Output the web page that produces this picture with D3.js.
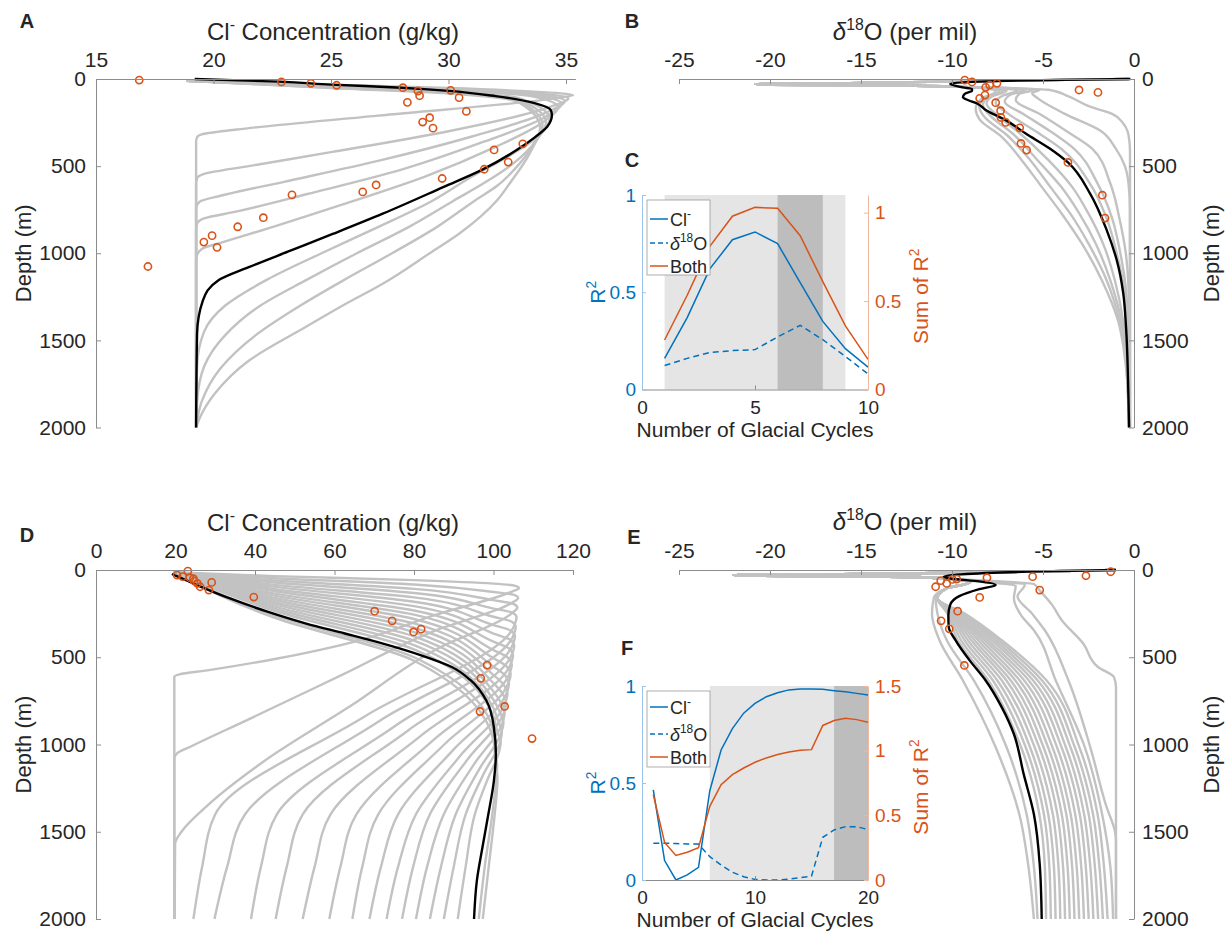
<!DOCTYPE html>
<html><head><meta charset="utf-8">
<script src="https://cdn.jsdelivr.net/npm/d3@7/dist/d3.min.js"></script>
<style>
html,body{margin:0;padding:0;background:#fff;}
svg text{font-family:"Liberation Sans",Arial,Helvetica,sans-serif;}
</style></head>
<body>
<svg id="fig" width="1230" height="935"></svg>
<script>
// ---------------- DATA ----------------
const depthTicks = [0, 500, 1000, 1500, 2000];
const clTicksA = [15, 20, 25, 30, 35];
const clTicksD = [0, 20, 40, 60, 80, 100, 120];
const o18Ticks = [-25, -20, -15, -10, -5, 0];

// Panel A: Cl- (g/kg), depth (m)
const clObsA = [[16.84,6],[22.89,17],[24.14,25],[25.24,36],[28.06,50],[28.7,69],[28.77,96],[30.09,65],[30.45,107],[28.25,134],[30.76,186],[29.2,222],[28.9,247],[29.34,282],[33.16,372],[31.94,407],[32.54,477],[31.52,518],[29.73,571],[26.92,608],[26.35,648],[23.34,665],[22.12,796],[21.03,848],[19.94,899],[19.59,936],[20.15,966],[17.21,1076]];
const clBestA = [[19.2,0],[22.8,15],[25,32],[28,50],[30,68],[32,98],[33.7,140],[34.35,178],[34.4,207],[34.2,274],[33.7,332],[32.9,408],[31.4,523],[29.8,619],[27.2,773],[25.1,888],[23.3,984],[21.5,1080],[20.2,1156],[19.55,1271],[19.3,1463],[19.26,2000]];
const clRunsA = [
 [[18.85,10],[25,33],[30,52],[33.5,72],[35.3,92],[34.6,110],[27,210],[21,290],[19.5,318],[19.3,335],[19.26,360],[19.26,2000]],
 [[18.85,10],[25,36],[30,57],[33.5,80],[35.1,110],[34.35,159],[30,300],[25,420],[21.5,500],[19.6,545],[19.3,570],[19.26,600],[19.26,2000]],
 [[18.85,10],[25,38],[30,61],[33.5,86],[34.95,125],[34.2,190],[31,330],[27,470],[23,590],[20.3,670],[19.4,705],[19.26,740],[19.26,2000]],
 [[18.85,10],[25,40],[30,64],[33.5,92],[34.8,140],[34.1,220],[31.5,360],[28,520],[24,660],[21,760],[19.6,800],[19.3,830],[19.26,870],[19.26,2000]],
 [[18.85,10],[25,42],[30,67],[33.5,98],[34.65,160],[34.0,250],[32,390],[29,560],[25.5,720],[22.5,850],[20.3,940],[19.5,975],[19.3,1010],[19.26,1050],[19.26,2000]],
 [[18.85,10],[25,46],[30,74],[33,110],[34.3,230],[33.9,320],[32.6,440],[31,560],[29.3,700],[27,850],[24.6,1000],[22.3,1150],[20.5,1300],[19.6,1450],[19.3,1650],[19.26,2000]],
 [[18.85,10],[25,48],[30,77],[33,118],[34.15,250],[33.75,350],[32.8,480],[31.6,590],[30.2,700],[28.3,850],[26.1,1000],[24,1150],[22,1300],[20.5,1470],[19.6,1650],[19.3,1850],[19.26,2000]],
 [[18.85,10],[25,50],[30,80],[33,126],[34.0,265],[33.6,380],[32.8,520],[32.1,610],[31.1,700],[29.5,850],[27.6,1000],[25.6,1150],[23.7,1300],[21.8,1470],[20.3,1660],[19.5,1850],[19.26,2000]],
 [[18.85,10],[25,52],[30,83],[33,134],[33.9,280],[33.45,428],[32.6,600],[32.07,696],[30.45,888],[29.2,1000],[27.2,1175],[25.5,1300],[23.9,1425],[21.5,1617],[20.04,1808],[19.4,1950],[19.26,2000]]
];

// Panel B: d18O (per mil)
const o18ObsB = [[-9.3,6],[-8.9,17],[-8.15,48],[-7.93,35],[-7.53,25],[-8.48,111],[-8.19,92],[-7.6,136],[-7.33,182],[-7.31,221],[-7.05,249],[-6.28,280],[-6.21,370],[-5.9,408],[-3.63,479],[-3.02,63],[-1.98,77],[-1.74,667],[-1.59,798]];
const o18BestB = [[-0.2,0],[-4,5],[-8.5,15],[-10.1,27],[-10,33],[-9.4,48],[-8.9,57],[-8.9,68],[-9.3,85],[-9.4,105],[-9.1,122],[-8.6,142],[-8.15,178],[-7.05,236],[-5.95,313],[-4.63,399],[-3.63,479],[-2.42,656],[-1.5,867],[-0.95,1039],[-0.59,1230],[-0.44,1421],[-0.31,1804],[-0.27,2000]];
const o18TopB = [[-0.3,0],[-6,8],[-15,22],[-20.8,30],[-20,34],[-12,39],[-9.6,45]];
const o18RunsB = [
 [[-7,52],[-4.7,62],[-3.6,100],[-2.42,159],[-1.2,200],[-0.6,254],[-0.35,300],[-0.25,360],[-0.22,420],[-0.22,2000]],
 [[-7,52],[-5.2,63],[-5.6,80],[-5.3,110],[-3.8,200],[-1.8,300],[-1.0,400],[-0.5,500],[-0.3,600],[-0.22,750],[-0.22,2000]],
 [[-7.2,52],[-5.6,64],[-6.3,85],[-6.5,120],[-5.2,200],[-3.7,300],[-2.3,400],[-1.3,600],[-0.8,800],[-0.45,1000],[-0.3,1200],[-0.24,1500],[-0.22,2000]],
 [[-7.4,52],[-6.0,65],[-6.8,90],[-7.1,130],[-6.1,200],[-4.6,300],[-3.3,400],[-2.0,600],[-1.2,800],[-0.75,1000],[-0.45,1200],[-0.3,1500],[-0.23,2000]],
 [[-7.6,52],[-6.4,66],[-7.2,95],[-7.6,135],[-6.9,200],[-5.4,300],[-4.0,400],[-2.42,600],[-1.5,800],[-0.95,1000],[-0.55,1200],[-0.36,1500],[-0.25,2000]],
 [[-8,52],[-7,67],[-7.8,100],[-8.1,140],[-7.6,200],[-6.4,300],[-4.7,466],[-3.4,619],[-2.5,773],[-1.7,945],[-1.05,1156],[-0.6,1386],[-0.38,1655],[-0.28,2000]],
 [[-8.1,52],[-7.2,68],[-8,105],[-8.3,150],[-7.9,210],[-6.7,310],[-5.3,466],[-4.0,619],[-3.0,773],[-2.1,945],[-1.3,1156],[-0.7,1386],[-0.4,1655],[-0.28,2000]],
 [[-8.2,52],[-7.4,69],[-8.2,110],[-8.5,160],[-8.2,220],[-7.0,320],[-5.7,466],[-4.6,619],[-3.5,773],[-2.5,945],[-1.5,1156],[-0.8,1386],[-0.42,1655],[-0.28,2000]],
 [[-8.3,52],[-7.6,70],[-8.4,115],[-8.7,170],[-8.5,230],[-7.27,332],[-6.17,466],[-5.07,619],[-3.97,773],[-2.86,945],[-1.76,1156],[-0.88,1386],[-0.44,1655],[-0.26,2000]]
];

// Inset C
const cyclesC = [1,2,3,4,5,6,7,8,9,10];
const r2ClC = [0.16,0.37,0.62,0.77,0.81,0.75,0.55,0.35,0.21,0.115];
const r2O18C = [0.123,0.16,0.19,0.2,0.205,0.27,0.33,0.256,0.17,0.08];
const r2SumC = [0.28,0.533,0.81,0.98,1.03,1.025,0.87,0.61,0.36,0.17];
const shadeLightC = [1, 9];
const shadeDarkC = [6, 8];

// Panel D
const clObsD = [[23.1,6],[20.4,29],[21.8,38],[23.6,44],[24.5,50],[24.7,63],[25.5,77],[26.2,96],[29.1,71],[28.4,115],[39.7,155],[70.1,236],[74.5,291],[79.9,355],[81.8,339],[98.4,545],[96.8,621],[102.8,782],[96.6,811],[109.7,966]];
const clBestD = [[19.1,23],[21.2,44],[26,92],[33.7,163],[43.3,240],[52.9,307],[62.6,364],[72.2,422],[81.8,489],[89.5,556],[94.3,633],[98.2,748],[100.1,901],[100.6,1055],[100.1,1208],[98.7,1400],[97.2,1592],[95.8,1783],[95.1,2000]];
const clRunsD = [
 [[19.5,12],[45,35],[80,58],[100,78],[105.5,91],[106.4,104],[104.5,125],[85,260],[66.4,403],[45,510],[28,575],[21,598],[19.7,612],[19.7,2000]],
 [[19.5,12],[45,47],[80,83],[100,126],[105.2,143],[106.2,160],[104.5,190],[85,350],[62,600],[38,860],[24,1010],[20.3,1052],[19.7,1080],[19.7,2000]],
 [[19.5,12],[45,60],[80,108],[100,173],[105,194],[106,215],[104.5,250],[86,450],[64,780],[42,1100],[28,1350],[21.5,1500],[19.9,1570],[19.8,2000]],
 [[19.5,12],[45,72],[80,132],[100,221],[104.8,245],[105.8,270],[105,330],[67.9,835],[30,1400],[26.7,1700],[24.5,2000]],
 [[19.5,12],[45,85],[80,157],[100,268],[104.6,296],[105.6,325],[104.8,385],[71.5,862],[37.5,1400],[33,1700],[29.8,2000]],
 [[19.5,12],[45,97],[80,182],[100,316],[104.4,348],[105.4,380],[104.6,440],[75.5,890],[45.5,1400],[41.5,1700],[39,2000]],
 [[19.5,12],[45,110],[80,207],[100,364],[104.2,400],[105.2,435],[104.4,495],[78.6,918],[52,1400],[48,1700],[45.2,2000]],
 [[19.5,12],[45,122],[80,232],[100,411],[103.9,450],[104.9,490],[104.1,550],[82,945],[59,1400],[55,1700],[52,2000]],
 [[19.5,12],[45,135],[80,256],[100,459],[103.6,502],[104.6,545],[103.8,605],[85,972],[65.5,1400],[61.5,1700],[58.7,2000]],
 [[19.5,12],[45,147],[80,281],[100,506],[103.3,553],[104.3,600],[103.5,660],[87.6,1000],[71,1400],[67,1700],[64.5,2000]],
 [[19.5,12],[45,160],[80,306],[100,554],[102.9,604],[103.9,655],[103.1,715],[90,1028],[76,1400],[71.7,1700],[68.8,2000]],
 [[19.5,12],[45,172],[80,331],[100,602],[102.5,656],[103.5,710],[102.8,770],[92,1055],[80.5,1400],[76,1700],[73.1,2000]],
 [[19.5,12],[45,185],[80,356],[100,649],[102.2,707],[103.2,765],[102.5,825],[93.6,1082],[84,1400],[79.8,1700],[77,2000]],
 [[19.5,12],[45,197],[80,380],[100,697],[101.8,758],[102.8,820],[102.2,880],[95.2,1110],[87.5,1400],[83.3,1700],[80.5,2000]],
 [[19.5,12],[45,210],[80,405],[100,744],[101.5,810],[102.5,875],[101.9,935],[96.5,1138],[90.5,1400],[86.8,1700],[84,2000]],
 [[19.5,12],[45,222],[80,430],[100,792],[101.1,861],[102.1,930],[101.6,990],[97.6,1165],[93,1400],[90,1700],[87.5,2000]],
 [[19.5,12],[45,235],[80,455],[100,840],[100.8,915],[101.8,990],[101.3,1050],[98.6,1195],[95.3,1400],[93,1700],[91,2000]],
 [[19.5,12],[45,262],[80,500],[100,930],[100.4,1025],[100.9,1120],[100.7,1200],[99.7,1400],[97.8,1700],[96.3,2000]],
 [[19.5,12],[45,275],[80,520],[100,980],[100.5,1090],[101,1200],[100.8,1280],[100.3,1400],[98.8,1700],[97.3,2000]]
];

// Panel E
const o18ObsE = [[-1.28,10],[-2.64,33],[-5.57,38],[-8.08,44],[-9.74,52],[-10.62,61],[-10.29,77],[-9.98,54],[-10.9,96],[-5.18,115],[-8.48,157],[-9.69,236],[-10.6,291],[-10.15,337],[-9.32,547]];
const o18BestE = [[-0.99,0],[-5,8],[-9.5,25],[-10.46,38],[-10,50],[-8.5,65],[-7.6,86],[-8.5,110],[-9.6,150],[-10.1,200],[-10.2,260],[-10.18,326],[-9.8,403],[-9.03,518],[-8.15,633],[-7.27,786],[-6.6,940],[-6.06,1170],[-5.5,1400],[-5.18,1687],[-5.07,2000]];
const o18TopE = [[-1,0],[-8,14],[-16,24],[-22,29],[-21.3,33],[-12,40],[-10.4,50]];
const o18RunsE = [
 [[-8,62],[-5.5,80],[-5.2,115],[-4.5,200],[-3.97,288],[-2.8,420],[-1.98,556],[-1.1,614],[-0.99,671],[-0.99,2000]],
 [[-8,64],[-6,85],[-6.4,150],[-5.6,250],[-4.9,345],[-3.6,633],[-2.4,1016],[-1.5,1361],[-1.05,1496],[-0.99,1553],[-0.99,2000]],
 [[-8.5,66],[-6.5,90],[-6.6,160],[-6.2,260],[-5.5,345],[-4.3,633],[-2.7,1016],[-1.75,1400],[-1.3,1700],[-1.15,2000]],
 [[-9,72],[-10.3,105],[-10.8,160],[-9.3,250],[-7.3,400],[-4.8,633],[-3.0,1016],[-2.0,1400],[-1.65,1700],[-1.45,2000]],
 [[-9,72],[-10.3,105],[-10.8,160],[-9.37,250],[-7.48,400],[-5.05,633],[-3.25,1016],[-2.25,1400],[-1.9,1700],[-1.71,2000]],
 [[-9,72],[-10.3,105],[-10.8,160],[-9.45,250],[-7.67,400],[-5.29,633],[-3.49,1016],[-2.49,1400],[-2.15,1700],[-1.97,2000]],
 [[-9,72],[-10.3,105],[-10.8,160],[-9.52,250],[-7.85,400],[-5.54,633],[-3.74,1016],[-2.74,1400],[-2.4,1700],[-2.23,2000]],
 [[-9,72],[-10.3,105],[-10.8,160],[-9.59,250],[-8.04,400],[-5.78,633],[-3.98,1016],[-2.98,1400],[-2.65,1700],[-2.49,2000]],
 [[-9,72],[-10.3,105],[-10.8,160],[-9.67,250],[-8.22,400],[-6.03,633],[-4.23,1016],[-3.23,1400],[-2.9,1700],[-2.75,2000]],
 [[-9,72],[-10.3,105],[-10.8,160],[-9.74,250],[-8.41,400],[-6.28,633],[-4.48,1016],[-3.48,1400],[-3.15,1700],[-3.01,2000]],
 [[-9,72],[-10.3,105],[-10.8,160],[-9.81,250],[-8.59,400],[-6.52,633],[-4.72,1016],[-3.72,1400],[-3.4,1700],[-3.27,2000]],
 [[-9,72],[-10.3,105],[-10.8,160],[-9.88,250],[-8.78,400],[-6.77,633],[-4.97,1016],[-3.97,1400],[-3.65,1700],[-3.53,2000]],
 [[-9,72],[-10.3,105],[-10.8,160],[-9.96,250],[-8.96,400],[-7.01,633],[-5.21,1016],[-4.21,1400],[-3.9,1700],[-3.79,2000]],
 [[-9,72],[-10.3,105],[-10.8,160],[-10.03,250],[-9.15,400],[-7.26,633],[-5.46,1016],[-4.46,1400],[-4.15,1700],[-4.05,2000]],
 [[-9,72],[-10.3,105],[-10.8,160],[-10.1,250],[-9.33,400],[-7.51,633],[-5.71,1016],[-4.71,1400],[-4.4,1700],[-4.31,2000]],
 [[-9,72],[-10.3,105],[-10.8,160],[-10.18,250],[-9.52,400],[-7.75,633],[-5.95,1016],[-4.95,1400],[-4.65,1700],[-4.57,2000]],
 [[-9,72],[-10.3,105],[-10.8,160],[-10.25,250],[-9.7,400],[-8.0,633],[-6.2,1016],[-5.2,1400],[-4.9,1700],[-4.83,2000]],
 [[-9,72],[-10.3,105],[-10.9,160],[-10.8,250],[-10.3,400],[-8.8,633],[-7.0,1016],[-5.9,1400],[-5.5,1700],[-5.3,2000]],
 [[-9,72],[-10.3,105],[-11.0,160],[-11.1,250],[-10.7,400],[-9.4,633],[-7.6,1016],[-6.3,1400],[-5.8,1700],[-5.5,2000]]
];

// Inset F
const cyclesF = [1,2,3,4,5,6,7,8,9,10,11,12,13,14,15,16,17,18,19,20];
const r2ClF = [0.464,0.1,0.0,0.026,0.065,0.46,0.67,0.78,0.86,0.91,0.945,0.965,0.98,0.985,0.985,0.983,0.976,0.97,0.962,0.954];
const r2O18F = [0.19,0.19,0.188,0.186,0.185,0.12,0.077,0.04,0.017,0.003,0.0,0.0,0.005,0.012,0.02,0.22,0.258,0.275,0.275,0.26];
const r2SumF = [0.66,0.29,0.19,0.215,0.25,0.57,0.737,0.815,0.866,0.91,0.944,0.97,0.99,1.003,1.008,1.195,1.233,1.25,1.24,1.22];
const shadeLightF = [6, 20];
const shadeDarkF = [17, 20];

// ---------------- DRAWING ----------------
const GRAY = "#c2c2c2", ORANGE = "#D95319", BLUE = "#0072BD", AX = "#8c8c8c", TXT = "#262626";
const FONT = '"Liberation Sans", Arial, Helvetica, sans-serif';
const svg = d3.select("#fig");
svg.append("rect").attr("width",1230).attr("height",935).attr("fill","#fff");

function rich(g, x, y, parts, fs, o = {}) {
  const t = g.append("text").attr("x", x).attr("y", y).attr("font-size", fs)
    .attr("text-anchor", o.anchor || "middle").attr("fill", o.fill || TXT).attr("font-family", FONT);
  if (o.rotate) t.attr("transform", `rotate(${o.rotate},${x},${y})`);
  if (o.weight) t.attr("font-weight", o.weight);
  let up = false;
  parts.forEach(p => {
    const s = t.append("tspan").text(p.t);
    if (p.sup) { s.attr("font-size", fs * 0.66).attr("dy", -fs * 0.42); up = true; }
    else if (up) { s.attr("dy", fs * 0.42); up = false; }
    if (p.it) s.attr("font-style", "italic");
  });
  return t;
}
const CL = [{t:"Cl"},{t:"-",sup:true}];
const D18 = [{t:"\u03B4",it:true},{t:"18",sup:true},{t:"O"}];

function styleAxis(a, fs, lineColor, textColor) {
  a.attr("font-size", fs).attr("font-family", FONT);
  a.select(".domain").attr("stroke", lineColor).attr("stroke-width", 1);
  a.selectAll(".tick line").attr("stroke", lineColor);
  a.selectAll(".tick text").attr("fill", textColor);
}

function profile(p) {
  const x = d3.scaleLinear().domain(p.xDom).range(p.xRange);
  const y = d3.scaleLinear().domain([0, 2000]).range(p.yRange);
  const g = svg.append("g");
  const line = d3.line().x(d => x(d[0])).y(d => y(d[1])).curve(d3.curveMonotoneY);
  g.append("g").selectAll("path").data(p.runs).join("path")
    .attr("d", line).attr("fill", "none").attr("stroke", GRAY).attr("stroke-width", 2.4);
  g.append("path").datum(p.best).attr("d", line).attr("fill", "none")
    .attr("stroke", "#000").attr("stroke-width", 2.4);
  g.append("g").selectAll("circle").data(p.obs).join("circle")
    .attr("cx", d => x(d[0])).attr("cy", d => y(d[1])).attr("r", 3.6)
    .attr("fill", "none").attr("stroke", ORANGE).attr("stroke-width", 1.6);
  const xa = g.append("g").attr("transform", `translate(0,${p.yRange[0]})`)
    .call(d3.axisTop(x).tickValues(p.xTicks).tickFormat(d => String(d)).tickSize(-5).tickSizeOuter(0).tickPadding(12));
  styleAxis(xa, 21, AX, TXT);
  const ax = p.right ? d3.axisRight(y) : d3.axisLeft(y);
  const ya = g.append("g").attr("transform", `translate(${p.yAxisX},0)`)
    .call(ax.tickValues(depthTicks).tickFormat(d => String(d)).tickSize(-5).tickSizeOuter(0).tickPadding(p.right ? 8 : 10));
  styleAxis(ya, 21, AX, TXT);
  rich(g, p.titleX, p.titleY, p.title, 24);
  const my = (p.yRange[0] + p.yRange[1]) / 2;
  rich(g, p.depthX, my, [{t:"Depth (m)"}], 22, {rotate: -90});
  rich(g, p.letterX, p.letterY, [{t:p.letter}], 20, {weight: "bold"});
}

function inset(p) {
  const X0 = 642, X1 = 868;
  const x = d3.scaleLinear().domain([0, p.xMax]).range([X0, X1]);
  const yl = d3.scaleLinear().domain([0, 1]).range([p.y1, p.y0]);
  const yr = d3.scaleLinear().domain([0, p.rMax]).range([p.y1, p.y0]);
  const g = svg.append("g");
  g.append("rect").attr("x", X0).attr("y", p.y0).attr("width", X1 - X0).attr("height", p.y1 - p.y0).attr("fill", "#fff");
  g.append("rect").attr("x", x(p.light[0])).attr("y", p.y0).attr("width", x(p.light[1]) - x(p.light[0]))
    .attr("height", p.y1 - p.y0).attr("fill", "#e5e5e5");
  g.append("rect").attr("x", x(p.dark[0])).attr("y", p.y0).attr("width", x(p.dark[1]) - x(p.dark[0]))
    .attr("height", p.y1 - p.y0).attr("fill", "#bdbdbd");
  const lineL = d3.line().x(d => x(d[0])).y(d => yl(d[1]));
  const lineR = d3.line().x(d => x(d[0])).y(d => yr(d[1]));
  g.append("path").datum(d3.zip(p.cycles, p.o18)).attr("d", lineL).attr("fill", "none")
    .attr("stroke", BLUE).attr("stroke-width", 1.5).attr("stroke-dasharray", "6,4");
  g.append("path").datum(d3.zip(p.cycles, p.cl)).attr("d", lineL).attr("fill", "none")
    .attr("stroke", BLUE).attr("stroke-width", 1.5);
  g.append("path").datum(d3.zip(p.cycles, p.sum)).attr("d", lineR).attr("fill", "none")
    .attr("stroke", ORANGE).attr("stroke-width", 1.5);
  const xa = g.append("g").attr("transform", `translate(0,${p.y1})`)
    .call(d3.axisBottom(x).tickValues(p.xTicks).tickFormat(d => String(d)).tickSize(-4).tickSizeOuter(0).tickPadding(11));
  styleAxis(xa, 19, AX, TXT);
  const la = g.append("g").attr("transform", `translate(${X0},0)`)
    .call(d3.axisLeft(yl).tickValues([0, 0.5, 1]).tickFormat(d => String(d)).tickSize(-4).tickSizeOuter(0).tickPadding(6));
  styleAxis(la, 19, "#9cc4e8", BLUE);
  const ra = g.append("g").attr("transform", `translate(${X1},0)`)
    .call(d3.axisRight(yr).tickValues(p.rTicks).tickFormat(d => String(d)).tickSize(-4).tickSizeOuter(0).tickPadding(7));
  styleAxis(ra, 19, "#f0b8a0", ORANGE);
  // legend
  const L = p.leg;
  g.append("rect").attr("x", 647).attr("y", L.y).attr("width", 63).attr("height", L.h)
    .attr("fill", "#fff").attr("stroke", "#9a9a9a").attr("stroke-width", 0.8);
  const rows = [
    {y: L.r[0], dash: null, col: BLUE, parts: CL},
    {y: L.r[1], dash: "5,3", col: BLUE, parts: D18},
    {y: L.r[2], dash: null, col: ORANGE, parts: [{t:"Both"}]}
  ];
  rows.forEach(r => {
    g.append("line").attr("x1", 650).attr("x2", 668).attr("y1", r.y).attr("y2", r.y)
      .attr("stroke", r.col).attr("stroke-width", 1.5).attr("stroke-dasharray", r.dash);
    rich(g, 670, r.y + 6.5, r.parts, 18, {anchor: "start"});
  });
  const my = (p.y0 + p.y1) / 2;
  rich(g, 605, my, [{t:"R"},{t:"2",sup:true}], 21, {rotate: -90, fill: BLUE});
  rich(g, 928, my + 4, [{t:"Sum of R"},{t:"2",sup:true}], 21, {rotate: -90, fill: ORANGE});
  rich(g, 755, p.y1 + 47, [{t:"Number of Glacial Cycles"}], 21);
  rich(g, p.letterX, p.letterY, [{t:p.letter}], 20, {weight: "bold"});
}

const clTitle = CL.concat([{t:" Concentration (g/kg)"}]);
const oTitle = D18.concat([{t:" (per mil)"}]);

profile({xDom:[15,35.4], xRange:[96,575.4], yRange:[79,427.5], xTicks:clTicksA, yAxisX:96, right:false,
  runs: clRunsA, best: clBestA, obs: clObsA, title: clTitle, titleX: 333, titleY: 40,
  depthX: 31, letter: "A", letterX: 27, letterY: 28});
profile({xDom:[-25,0], xRange:[679,1134], yRange:[79,427.5], xTicks:o18Ticks, yAxisX:1134, right:true,
  runs: o18RunsB.map(r => o18TopB.concat(r)), best: o18BestB, obs: o18ObsB, title: oTitle, titleX: 905, titleY: 40,
  depthX: 1219, letter: "B", letterX: 632, letterY: 28});
inset({xMax:10, rMax:1.1, y0:195, y1:389.5, xTicks:[0,5,10], rTicks:[0,0.5,1],
  cycles: cyclesC, cl: r2ClC, o18: r2O18C, sum: r2SumC, light: shadeLightC, dark: shadeDarkC,
  leg: {y:200, h:75, r:[219, 243, 266]}, letter: "C", letterX: 632, letterY: 167});
profile({xDom:[0,120], xRange:[96,573], yRange:[570,919], xTicks:clTicksD, yAxisX:96, right:false,
  runs: clRunsD, best: clBestD, obs: clObsD, title: clTitle, titleX: 333, titleY: 531,
  depthX: 31, letter: "D", letterX: 27, letterY: 542});
profile({xDom:[-25,0], xRange:[679,1134], yRange:[570,919], xTicks:o18Ticks, yAxisX:1134, right:true,
  runs: o18RunsE.map(r => o18TopE.concat(r)), best: o18BestE, obs: o18ObsE, title: oTitle, titleX: 905, titleY: 530,
  depthX: 1219, letter: "E", letterX: 634, letterY: 544});
inset({xMax:20, rMax:1.5, y0:686, y1:880, xTicks:[0,10,20], rTicks:[0,0.5,1,1.5],
  cycles: cyclesF, cl: r2ClF, o18: r2O18F, sum: r2SumF, light: shadeLightF, dark: shadeDarkF,
  leg: {y:691, h:76, r:[707, 734, 757]}, letter: "F", letterX: 627, letterY: 655});
</script>
</body></html>
